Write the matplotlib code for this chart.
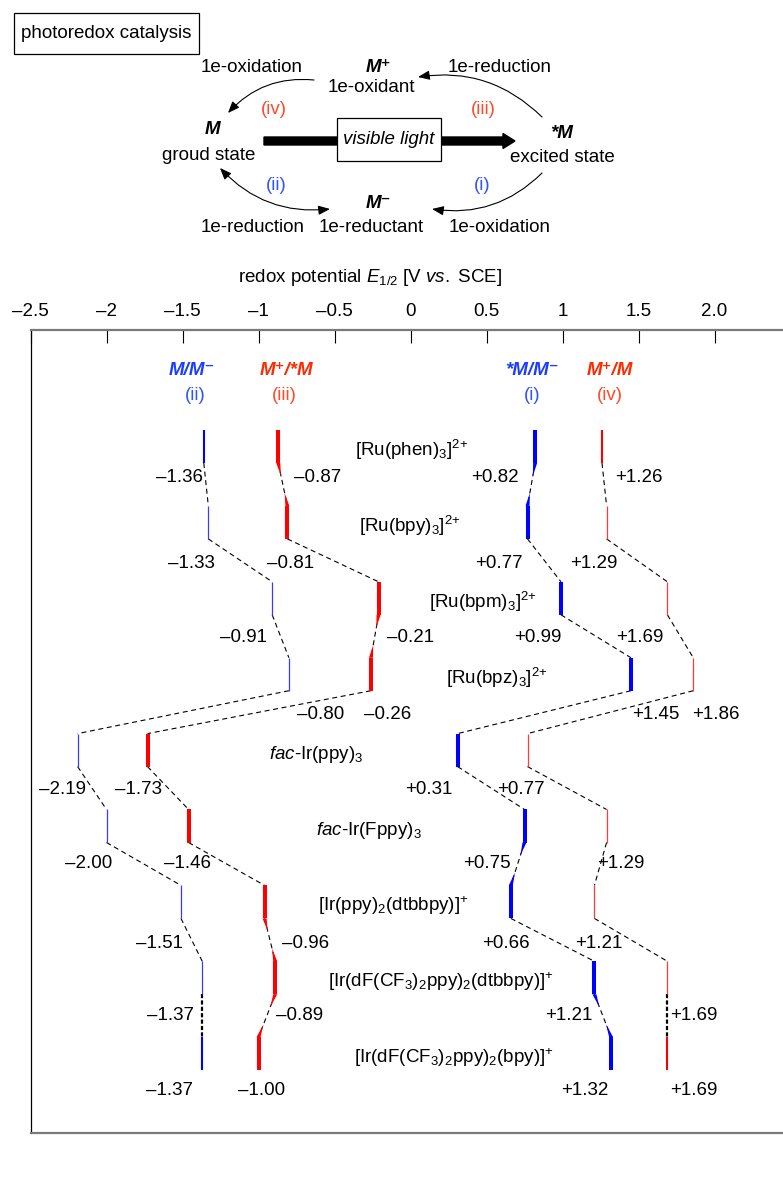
import matplotlib
matplotlib.use('Agg')
import matplotlib.pyplot as plt
from matplotlib.patches import FancyArrowPatch, FancyArrow, Rectangle, Polygon

plt.rcParams['font.family'] = ['Liberation Sans', 'DejaVu Sans']
plt.rcParams['mathtext.fontset'] = 'custom'
plt.rcParams['mathtext.rm'] = 'Liberation Sans'
plt.rcParams['mathtext.it'] = 'Liberation Sans:italic'
plt.rcParams['mathtext.bf'] = 'Liberation Sans:bold'
plt.rcParams['lines.scale_dashes'] = False

# ---------------- data ----------------
compounds = [r'[Ru(phen)$_3$]$^{2{+}}$', r'[Ru(bpy)$_3$]$^{2{+}}$', r'[Ru(bpm)$_3$]$^{2{+}}$',
             r'[Ru(bpz)$_3$]$^{2{+}}$', r'$\mathit{fac}$-Ir(ppy)$_3$', r'$\mathit{fac}$-Ir(Fppy)$_3$',
             r'[Ir(ppy)$_2$(dtbbpy)]$^{+}$', r'[Ir(dF(CF$_3$)$_2$ppy)$_2$(dtbbpy)]$^{+}$',
             r'[Ir(dF(CF$_3$)$_2$ppy)$_2$(bpy)]$^{+}$']
E_M_Mminus = [-1.36, -1.33, -0.91, -0.80, -2.19, -2.00, -1.51, -1.37, -1.37]      # (ii)
E_Mplus_Mstar = [-0.87, -0.81, -0.21, -0.26, -1.73, -1.46, -0.96, -0.89, -1.00]   # (iii)
E_Mstar_Mminus = [0.82, 0.77, 0.99, 1.45, 0.31, 0.75, 0.66, 1.21, 1.32]           # (i)
E_Mplus_M = [1.26, 1.29, 1.69, 1.86, 0.77, 1.29, 1.21, 1.69, 1.69]                # (iv)
series = [E_M_Mminus, E_Mplus_Mstar, E_Mstar_Mminus, E_Mplus_M]
series_titles = ['M/M\u207b', 'M\u207a/*M', '*M/M\u207b', 'M\u207a/M']
series_tags = ['(ii)', '(iii)', '(i)', '(iv)']
tick_values = [-2.5, -2, -1.5, -1, -0.5, 0, 0.5, 1, 1.5, 2.0]
tick_labels = ['\u20132.5', '\u20132', '\u20131.5', '\u20131', '\u20130.5', '0', '0.5', '1', '1.5', '2.0']

# ---------------- layout / style ----------------
W, H = 783, 1181
PXV = 152.0          # pixels per volt
X0PX = 30.5          # pixel of -2.5 V
ROW0, ROWH = 430.0, 75.9
BARLEN = 0.435
series_colors = ['#0000ff', '#ff0000', '#0000ff', '#ff0000']
thin_colors = ['#3a3aff', '#ff3a3a', '#3a3aff', '#ff3a3a']
series_thick = [False, True, True, False]
title_colors = ['#1a3dff', '#ff2a00', '#1a3dff', '#ff2a00']
tag_colors = ['#2e55ff', '#ff4a2a', '#2e55ff', '#ff4a2a']
title_px = [192, 286, 532, 610]
tag_px = [195, 284, 532, 610]
name_px = [412, 410, 483, 497, 316, 369, 393, 441, 454]
label_dy_px = [48, 58, 56, 57, 56, 54, 58, 54, 53]
label_dx = [[-24, 39, -40, 37],
            [-17, 3, -29, -13],
            [-29, 32, -23, -28],
            [32, 17, 25, 23],
            [-15, -9, -29, -7],
            [-18, -1, -38, 14],
            [-21, 41, -5, 4],
            [-32, 24, -26, 26],
            [-33, 3, -26, 26]]
FS = 13.5


def hx(px):
    return (px - X0PX) / PXV - 2.5


def hy(py):
    return (py - ROW0) / ROWH


fig = plt.figure(figsize=(W / 100, H / 100), dpi=100)

# overlay axes in pixel coordinates for the scheme
axd = fig.add_axes([0, 0, 1, 1])
axd.set_xlim(0, W)
axd.set_ylim(H, 0)
axd.axis('off')

# main axes
xmin, xmax = -2.5, 2.6
top_px, bot_px = 330, 1133
ax = fig.add_axes([X0PX / W, (H - bot_px) / H, (xmax - xmin) * PXV / W, (bot_px - top_px) / H])
ax.set_facecolor('none')
ax.set_xlim(xmin, xmax)
ax.set_ylim(hy(bot_px), hy(top_px))
ax.set_xticks(tick_values)
ax.set_xticklabels(tick_labels)
ax.set_yticks([])
ax.xaxis.set_ticks_position('top')
ax.tick_params(axis='x', direction='in', length=9.4, width=0.8, pad=7, labelsize=FS,
               top=True, bottom=False, labeltop=True, labelbottom=False)
for s in ['top', 'bottom']:
    ax.spines[s].set_color('#7a7a7a')
    ax.spines[s].set_linewidth(1.6)
ax.spines['left'].set_color('black')
ax.spines['left'].set_linewidth(0.9)
ax.spines['right'].set_visible(False)

fig.text(370 / W, 1 - 278 / H, r'redox potential $\mathit{E}_{1/2}$ [V $\mathit{vs.}$ SCE]',
         ha='center', va='center', fontsize=FS)

# headers
for k in range(4):
    ax.text(hx(title_px[k]), hy(371), series_titles[k], ha='center', va='center', fontsize=FS,
            fontweight='bold', fontstyle='italic', color=title_colors[k])
    ax.text(hx(tag_px[k]), hy(396), series_tags[k], ha='center', va='center', fontsize=FS,
            color=tag_colors[k])


def fmt(v):
    return ('\u2013%.2f' % abs(v)) if v < 0 else ('+%.2f' % v)


n = len(compounds)
wv = 2.0 / PXV
for k, vals in enumerate(series):
    for i, v in enumerate(vals):
        if series_thick[k]:
            lw, col = 2.9, series_colors[k]
        else:
            lw = 1.5 if i in (0, n - 1) else 0.9
            col = series_colors[k] if i in (0, n - 1) else thin_colors[k]
        ax.plot([v, v], [i, i + BARLEN], color=col, lw=lw, solid_capstyle='butt', zorder=3)
        ax.annotate(fmt(v), xy=(v, i + label_dy_px[i] / ROWH), xytext=(label_dx[i][k], 0),
                    textcoords='offset pixels', ha='center', va='center', fontsize=FS)
    col = series_colors[k]
    for i in range(n - 1):
        x0, y0 = vals[i], i + BARLEN
        x1, y1 = vals[i + 1], i + 1
        if abs(x1 - x0) < 1e-9:
            ax.plot([x0, x1], [y0, y1], color='black', lw=1.6, dashes=(3.0, 1.6), zorder=2)
        else:
            ax.plot([x0, x1], [y0, y1], color='black', lw=0.8, dashes=(3.6, 2.6), zorder=2)
        if series_thick[k] and abs(x1 - x0) * PXV < 20:
            f = 0.3
            ax.add_patch(Polygon([(x0 - wv, y0), (x0 + wv, y0),
                                  (x0 + f * (x1 - x0), y0 + f * (y1 - y0))],
                                 closed=True, fc=col, ec='none', zorder=3))
            ax.add_patch(Polygon([(x1 - wv, y1), (x1 + wv, y1),
                                  (x1 - f * (x1 - x0), y1 - f * (y1 - y0))],
                                 closed=True, fc=col, ec='none', zorder=3))

for i, name in enumerate(compounds):
    ax.text(hx(name_px[i]), i + 0.34, name, ha='center', va='baseline', fontsize=FS)

# ---------------- scheme ----------------
axd.add_patch(Rectangle((14, 13), 185, 41, fc='white', ec='black', lw=0.9))
axd.text(106.5, 34, 'photoredox catalysis', ha='center', va='center', fontsize=FS)

bi = dict(fontweight='bold', fontstyle='italic', fontsize=FS, ha='center', va='center')
rg = dict(fontsize=FS, ha='center', va='center')
axd.text(378, 68, 'M\u207a', **bi)
axd.text(371, 88, '1e-oxidant', **rg)
axd.text(212, 130, 'M', **bi)
axd.text(209, 155, 'groud state', **rg)
axd.text(562, 133, '*M', **bi)
axd.text(562, 158, 'excited state', **rg)
axd.text(378, 204, 'M\u207b', **bi)
axd.text(371, 228, '1e-reductant', **rg)
axd.text(252, 67, '1e-oxidation', **rg)
axd.text(500, 67, '1e-reduction', **rg)
axd.text(253, 228, '1e-reduction', **rg)
axd.text(500, 228, '1e-oxidation', **rg)
axd.text(274, 110, '(iv)', color='#ff4a2a', **rg)
axd.text(483, 110, '(iii)', color='#ff4a2a', **rg)
axd.text(276, 185, '(ii)', color='#2e55ff', **rg)
axd.text(482, 185, '(i)', color='#2e55ff', **rg)

axd.add_patch(FancyArrow(264, 141, 251, 0, width=8, head_width=15, head_length=12,
                         length_includes_head=True, fc='black', ec='black', zorder=2))
axd.add_patch(Rectangle((337, 118), 104, 43, fc='white', ec='black', lw=0.9, zorder=3))
axd.text(389, 140, 'visible light', fontstyle='italic', zorder=4, **rg)

astyle = '-|>,head_length=0.7,head_width=0.28'
for (p0, p1, rad, sty) in [((314, 80), (228, 113), 0.25, astyle),
                           ((542, 117), (418, 77), 0.25, astyle),
                           ((542, 173), (432, 209), -0.25, astyle),
                           ((330, 209), (220, 168), -0.25, '<|-|>,head_length=0.7,head_width=0.28')]:
    axd.add_patch(FancyArrowPatch(p0, p1, connectionstyle='arc3,rad=%g' % rad, arrowstyle=sty,
                                  mutation_scale=10, lw=0.8, color='black', shrinkA=0, shrinkB=0))

fig.savefig('out.png', dpi=100)
